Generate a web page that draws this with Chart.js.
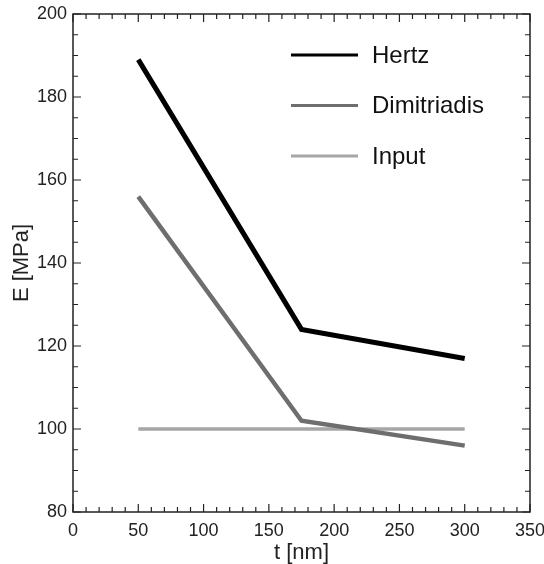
<!DOCTYPE html>
<html>
<head>
<meta charset="utf-8">
<script src="https://cdn.jsdelivr.net/npm/chart.js@4"></script>
<style>
  html, body { margin: 0; padding: 0; background: #fff; }
  #wrap { width: 544px; height: 564px; }
</style>
</head>
<body>
<div id="wrap"><canvas id="lineChart" width="544" height="564"></canvas></div>
<script>
// data
const thickness = [50, 175, 300];          // t [nm]
const hertz = [189, 124, 117];             // E [MPa]
const dimitriadis = [156, 102, 96];
const input = [100, 100, 100];

const xTickValues = [0, 50, 100, 150, 200, 250, 300, 350];
const yTickValues = [80, 100, 120, 140, 160, 180, 200];

const toPoints = (ys) => thickness.map((t, i) => ({ x: t, y: ys[i] }));

const FONT = '"Liberation Sans", Arial, Helvetica, sans-serif';

// box + inward major/minor ticks on all four sides
const frameTicks = {
    id: 'frameTicks',
    afterDraw(chart) {
        const { ctx, chartArea: a, scales: { x, y } } = chart;
        ctx.save();
        ctx.strokeStyle = '#222';
        ctx.lineWidth = 1.5;
        ctx.strokeRect(a.left, a.top, a.right - a.left, a.bottom - a.top);
        ctx.lineWidth = 1.2;
        ctx.beginPath();
        for (let v = 0; v <= 350; v += 10) {
            const px = x.getPixelForValue(v);
            const len = v % 50 === 0 ? 8 : 5;
            ctx.moveTo(px, a.bottom); ctx.lineTo(px, a.bottom - len);
            ctx.moveTo(px, a.top); ctx.lineTo(px, a.top + len);
        }
        for (let v = 80; v <= 200; v += 5) {
            const py = y.getPixelForValue(v);
            const len = v % 20 === 0 ? 8 : 5;
            ctx.moveTo(a.left, py); ctx.lineTo(a.left + len, py);
            ctx.moveTo(a.right, py); ctx.lineTo(a.right - len, py);
        }
        ctx.stroke();
        ctx.restore();
    }
};

// legend drawn inside the plot, top right
const insideLegend = {
    id: 'insideLegend',
    afterDatasetsDraw(chart) {
        const ctx = chart.ctx;
        ctx.save();
        ctx.font = '24px ' + FONT;
        ctx.textBaseline = 'middle';
        ctx.fillStyle = '#111';
        chart.data.datasets.forEach((ds, i) => {
            const yy = 55 + i * 50.5;
            ctx.strokeStyle = ds.borderColor;
            ctx.lineWidth = 3;
            ctx.beginPath();
            ctx.moveTo(291, yy);
            ctx.lineTo(358, yy);
            ctx.stroke();
            ctx.fillText(ds.label, 372, yy + 1);
        });
        ctx.restore();
    }
};

const ctxLine = document.getElementById('lineChart').getContext('2d');
const lineChart = new Chart(ctxLine, {
    type: 'line',
    data: {
        datasets: [{
            label: 'Hertz',
            data: toPoints(hertz),
            borderColor: '#000000',
            borderWidth: 5
        }, {
            label: 'Dimitriadis',
            data: toPoints(dimitriadis),
            borderColor: '#6e6e6e',
            borderWidth: 4.5
        }, {
            label: 'Input',
            data: toPoints(input),
            borderColor: '#a6a6a6',
            borderWidth: 3.5
        }]
    },
    options: {
        responsive: false,
        animation: false,
        events: [],
        layout: { padding: { left: 0, right: 14, top: 14, bottom: 0 } },
        elements: {
            point: { radius: 0 },
            line: { tension: 0, fill: false, borderCapStyle: 'butt' }
        },
        plugins: {
            legend: { display: false },
            tooltip: { enabled: false }
        },
        scales: {
            x: {
                type: 'linear',
                min: 0,
                max: 350,
                grid: { display: false, drawTicks: false },
                border: { display: false },
                afterBuildTicks: (s) => { s.ticks = xTickValues.map(v => ({ value: v })); },
                afterFit: (s) => { s.height = 52; s.paddingLeft = 0; s.paddingRight = 0; },
                ticks: {
                    padding: 8,
                    maxRotation: 0,
                    autoSkip: false,
                    color: '#222',
                    font: { family: FONT, size: 18 }
                },
                title: {
                    display: true,
                    text: 't [nm]',
                    color: '#222',
                    padding: { top: 0, bottom: 0 },
                    font: { family: FONT, size: 22, lineHeight: 1 }
                }
            },
            y: {
                min: 80,
                max: 200,
                grid: { display: false, drawTicks: false },
                border: { display: false },
                afterBuildTicks: (s) => { s.ticks = yTickValues.map(v => ({ value: v })); },
                afterFit: (s) => { s.width = 73; s.paddingTop = 0; s.paddingBottom = 0; },
                ticks: {
                    padding: 6,
                    autoSkip: false,
                    color: '#222',
                    font: { family: FONT, size: 18 }
                },
                title: {
                    display: true,
                    text: 'E [MPa]',
                    color: '#222',
                    padding: { top: 11, bottom: 0 },
                    font: { family: FONT, size: 22, lineHeight: 1 }
                }
            }
        }
    },
    plugins: [frameTicks, insideLegend]
});
</script>
</body>
</html>
